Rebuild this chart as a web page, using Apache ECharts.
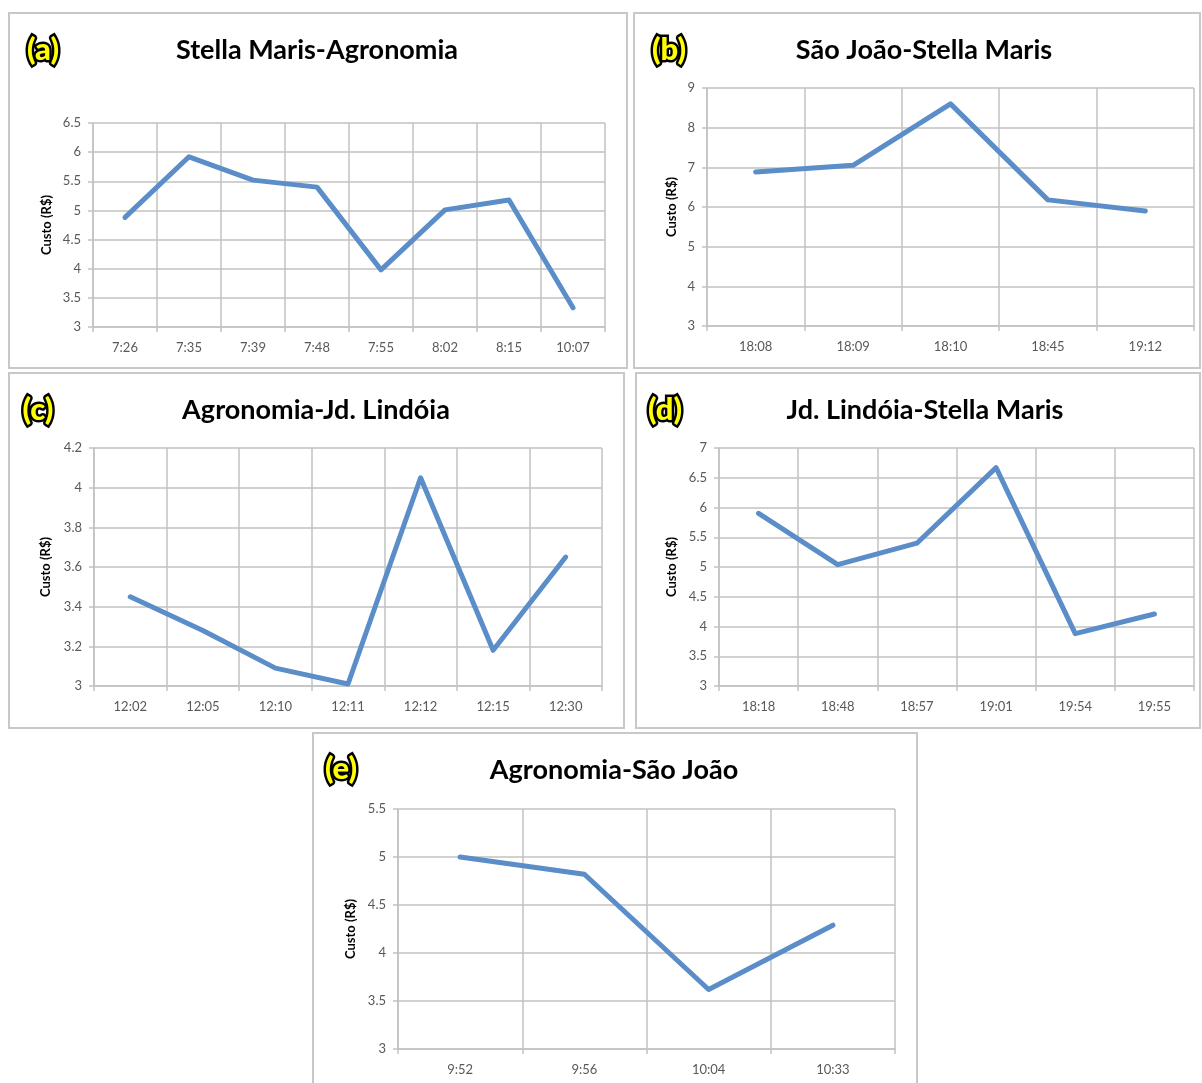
<!DOCTYPE html>
<html>
<head>
<meta charset="utf-8">
<script src="https://cdn.jsdelivr.net/npm/echarts@6/dist/echarts.min.js"></script>
<style>
  html, body { margin: 0; padding: 0; background: #fff; }
  #main { width: 1202px; height: 1083px; }
</style>
</head>
<body>
<div id="main"></div>
<script>
// dados
var titles = ['Stella Maris-Agronomia', 'São João-Stella Maris', 'Agronomia-Jd. Lindóia', 'Jd. Lindóia-Stella Maris', 'Agronomia-São João'];
var letters = ['(a)', '(b)', '(c)', '(d)', '(e)'];

var catsA = ['7:26', '7:35', '7:39', '7:48', '7:55', '8:02', '8:15', '10:07'];
var valsA = [4.88, 5.92, 5.52, 5.4, 3.98, 5.01, 5.18, 3.33];

var catsB = ['18:08', '18:09', '18:10', '18:45', '19:12'];
var valsB = [6.88, 7.05, 8.6, 6.18, 5.9];

var catsC = ['12:02', '12:05', '12:10', '12:11', '12:12', '12:15', '12:30'];
var valsC = [3.45, 3.28, 3.09, 3.01, 4.05, 3.18, 3.65];

var catsD = ['18:18', '18:48', '18:57', '19:01', '19:54', '19:55'];
var valsD = [5.9, 5.04, 5.4, 6.67, 3.88, 4.21];

var catsE = ['9:52', '9:56', '10:04', '10:33'];
var valsE = [5.0, 4.82, 3.62, 4.29];

// eixo y: [min, max, intervalo]
var yRanges = [[3, 6.5, 0.5], [3, 9, 1], [3, 4.2, 0.2], [3, 7, 0.5], [3, 5.5, 0.5]];

var allCats = [catsA, catsB, catsC, catsD, catsE];
var allVals = [valsA, valsB, valsC, valsD, valsE];

// layout dos paineis
var grids = [
    {left: 93, top: 123, width: 512, height: 204},
    {left: 707, top: 88, width: 487, height: 238},
    {left: 94, top: 448, width: 508, height: 238},
    {left: 719, top: 448, width: 475, height: 238},
    {left: 398, top: 809, width: 497, height: 240}
];
var boxes = [
    {x: 9, y: 13, width: 618, height: 355},
    {x: 634, y: 13, width: 566, height: 355},
    {x: 9, y: 373, width: 615, height: 355},
    {x: 636, y: 373, width: 564, height: 355},
    {x: 313, y: 733, width: 604, height: 360}
];
var titlePos = [[317, 50], [924, 50], [316, 410], [925, 410], [614, 770]];
var letterPos = [[43, 50], [669, 50], [38, 410], [665, 410], [341, 769]];
var nameGaps = [40, 29, 42, 41, 41];

var gridColor = '#c2c2c2';
var labelColor = '#595959';
var lineColor = '#5b8dc8';
var fontName = 'Lato';

var chart = echarts.init(document.getElementById('main'));

var xAxes = [], yAxes = [], series = [], graphics = [];
for (var i = 0; i < 5; i++) {
    xAxes.push({
        type: 'category',
        gridIndex: i,
        data: allCats[i],
        boundaryGap: true,
        axisLine: {lineStyle: {color: gridColor, width: 1.5}},
        axisTick: {show: true, length: 5, lineStyle: {color: gridColor, width: 1.5}},
        axisLabel: {color: labelColor, fontSize: 13, fontFamily: fontName, margin: 14},
        splitLine: {show: true, lineStyle: {color: gridColor, width: 1.5}}
    });
    yAxes.push({
        type: 'value',
        gridIndex: i,
        min: yRanges[i][0],
        max: yRanges[i][1],
        interval: yRanges[i][2],
        name: 'Custo (R$)',
        nameLocation: 'middle',
        nameRotate: 90,
        nameGap: nameGaps[i],
        nameTextStyle: {color: '#000', fontSize: 13, fontWeight: 'bold', fontFamily: fontName},
        axisLine: {show: true, lineStyle: {color: gridColor, width: 1.5}},
        axisTick: {show: true, length: 5, lineStyle: {color: gridColor, width: 1.5}},
        axisLabel: {color: labelColor, fontSize: 13, fontFamily: fontName, margin: 12},
        splitLine: {show: true, lineStyle: {color: gridColor, width: 1.5}}
    });
    series.push({
        type: 'line',
        xAxisIndex: i,
        yAxisIndex: i,
        data: allVals[i],
        symbol: 'none',
        lineStyle: {color: lineColor, width: 5, cap: 'round', join: 'round'},
        silent: true
    });
    graphics.push({
        type: 'rect',
        shape: boxes[i],
        style: {fill: 'none', stroke: '#c8c8c8', lineWidth: 2}
    });
    graphics.push({
        type: 'text',
        x: titlePos[i][0],
        y: titlePos[i][1],
        style: {
            text: titles[i],
            fill: '#000',
            font: 'bold 27px ' + fontName,
            textAlign: 'center',
            textVerticalAlign: 'middle'
        }
    });
    graphics.push({
        type: 'text',
        x: letterPos[i][0],
        y: letterPos[i][1],
        style: {
            text: letters[i],
            fill: '#ffff00',
            stroke: '#000',
            lineWidth: 5,
            strokeFirst: true,
            font: '900 31px ' + fontName,
            textAlign: 'center',
            textVerticalAlign: 'middle'
        }
    });
}

var option = {
    backgroundColor: '#fff',
    animation: false,
    grid: grids,
    xAxis: xAxes,
    yAxis: yAxes,
    series: series,
    graphic: graphics
};
chart.setOption(option);
</script>
</body>
</html>
